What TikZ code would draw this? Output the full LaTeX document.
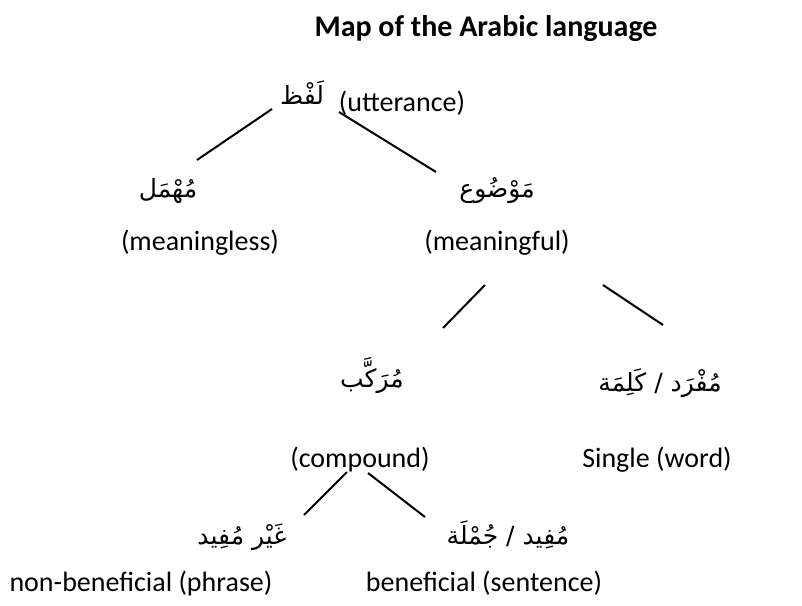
\documentclass[tikz,border=0pt]{standalone}
\usepackage{fontspec}
\setmainfont{Carlito}
\newfontfamily\arabicfont[Script=Arabic]{DejaVu Sans}
\TeXXeTstate=1
\begin{document}
\begin{tikzpicture}[x=1pt,y=-1pt,
  lat/.style={font=\fontsize{28}{32}\selectfont, inner sep=0pt, anchor=base},
  ttl/.style={font=\fontsize{30}{34}\selectfont\bfseries, inner sep=0pt, anchor=base},
  ar/.style={font=\arabicfont\fontsize{25}{29}\selectfont, inner sep=0pt, anchor=base},
  branch/.style={line width=2pt}]
\useasboundingbox (0,0) rectangle (802,605);
\node[ttl] (title) at (486,36) {Map of the Arabic language};
\node[ar]  (lafz) at (302,104) {\beginR لَفْظ\endR};
\node[lat] (utt) at (402,111) {(utterance)};
\node[ar]  (muhmal) at (168,197) {\beginR مُهْمَل\endR};
\node[ar]  (mawdu) at (497,197) {\beginR مَوْضُوع\endR};
\node[lat] (meaningless) at (200,250) {(meaningless)};
\node[lat] (meaningful) at (497,250) {(meaningful)};
\node[ar]  (murakkab) at (372,387) {\beginR مُرَكَّب\endR};
\node[ar]  (mufrad) at (660,391) {\beginR مُفْرَد / كَلِمَة\endR};
\node[lat] (compound) at (360,467) {(compound)};
\node[lat] (single) at (657,467) {Single (word)};
\node[ar]  (ghayr) at (242,544) {\beginR غَيْر مُفِيد\endR};
\node[ar]  (mufid) at (508,544) {\beginR مُفِيد / جُمْلَة\endR};
\node[lat] (nonben) at (141,591) {non-beneficial (phrase)};
\node[lat] (ben) at (484,591) {beneficial (sentence)};
% connector end points
\coordinate (l1a) at (272,109); \coordinate (l1b) at (197,160);
\coordinate (l2a) at (339,112); \coordinate (l2b) at (436,172);
\coordinate (l3a) at (485,285); \coordinate (l3b) at (443,328);
\coordinate (l4a) at (603,285); \coordinate (l4b) at (663,325);
\coordinate (l5a) at (347,472); \coordinate (l5b) at (304,515);
\coordinate (l6a) at (368,473); \coordinate (l6b) at (425,517);
\draw[branch] (l1a) -- (l1b);
\draw[branch] (l2a) -- (l2b);
\draw[branch] (l3a) -- (l3b);
\draw[branch] (l4a) -- (l4b);
\draw[branch] (l5a) -- (l5b);
\draw[branch] (l6a) -- (l6b);
\end{tikzpicture}
\end{document}
